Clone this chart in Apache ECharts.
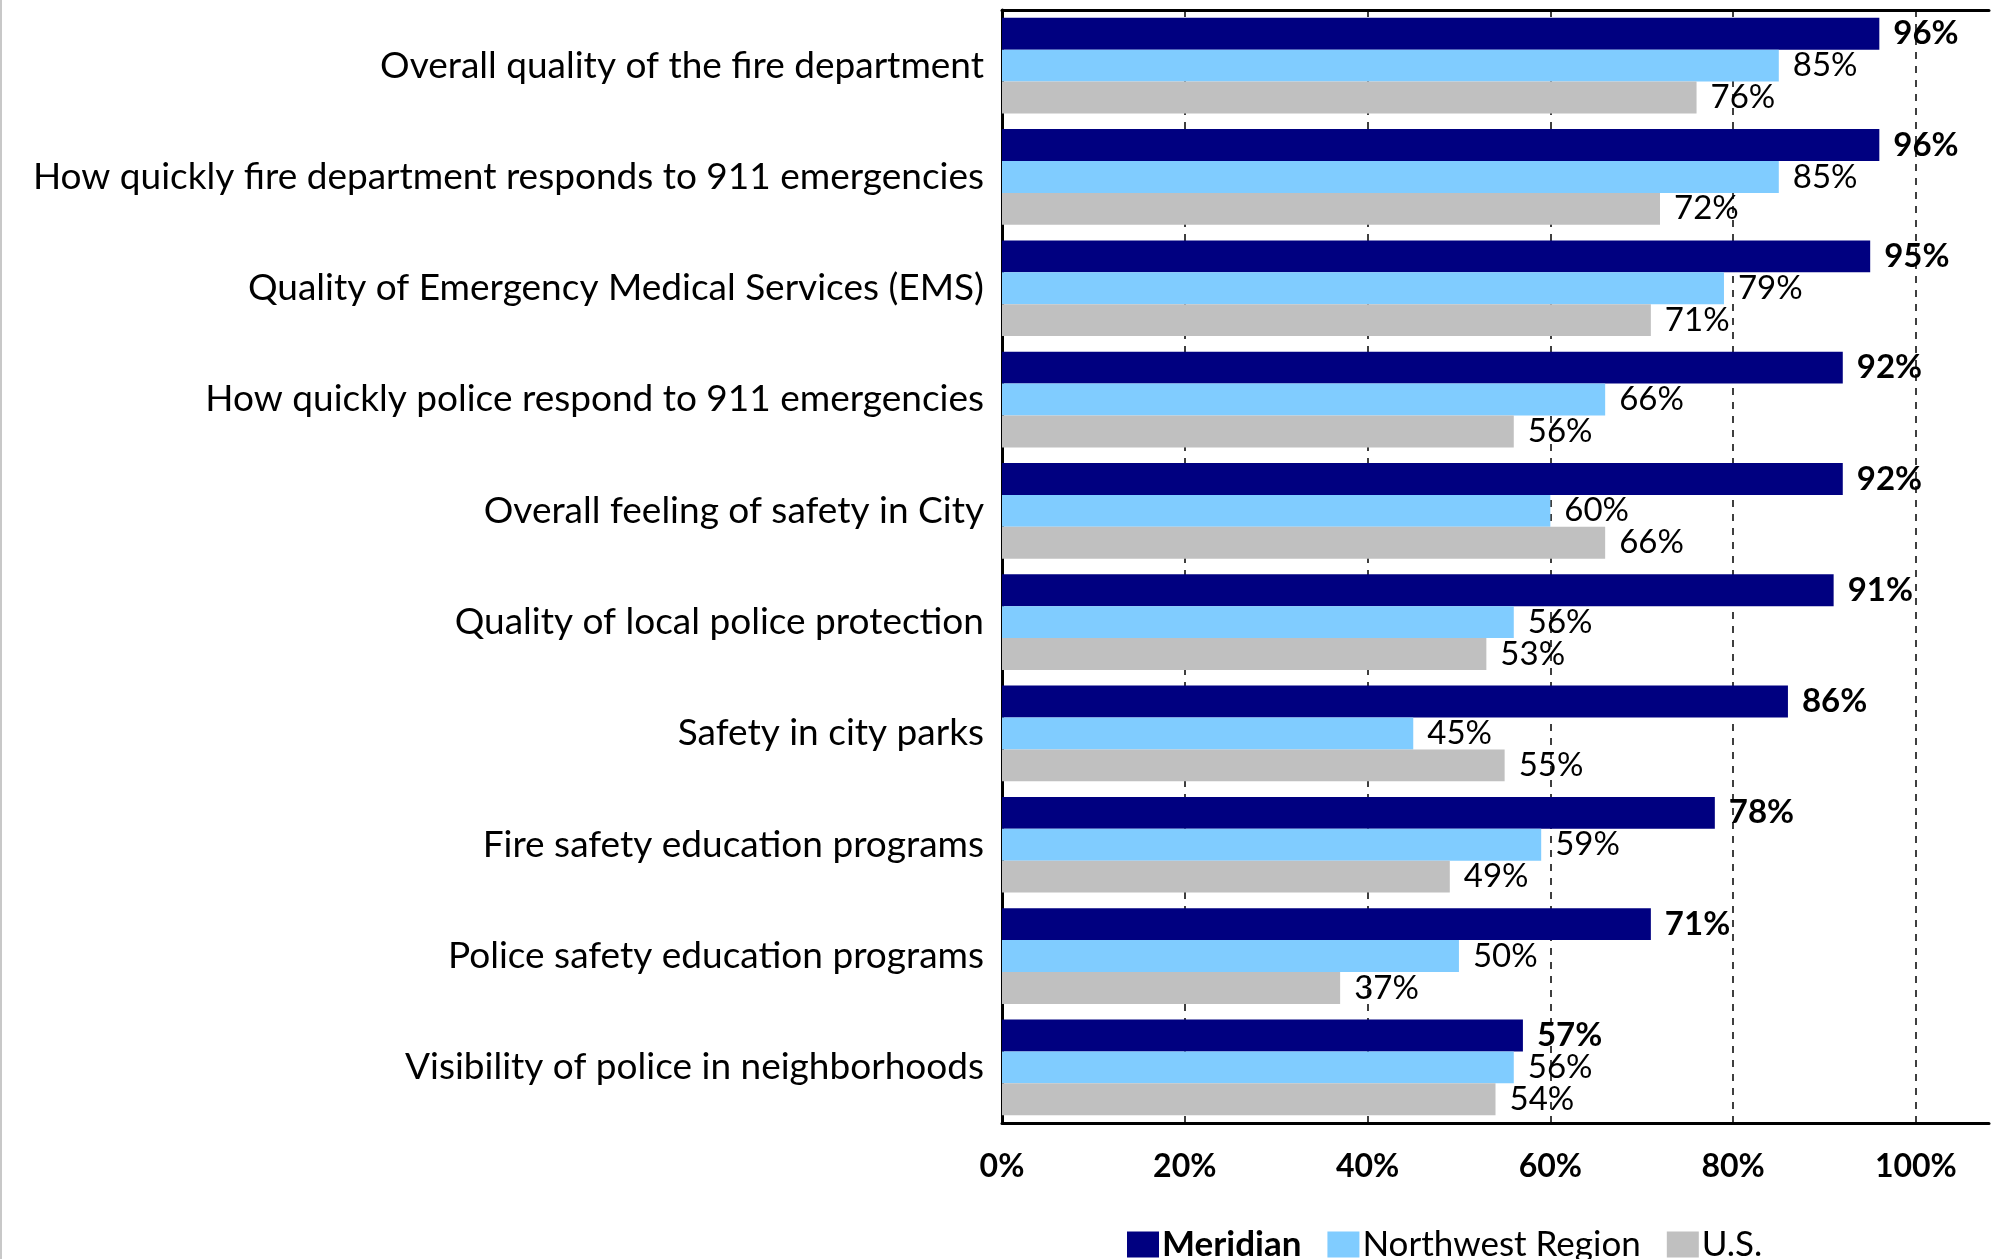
<!DOCTYPE html>
<html>
<head>
<meta charset="utf-8">
<script src="https://cdn.jsdelivr.net/npm/echarts@6/dist/echarts.min.js"></script>
<style>
html,body{margin:0;padding:0;background:#fff;overflow:hidden;}
#chart{width:1992px;height:1259px;}
</style>
</head>
<body>
<div id="chart"></div>
<script>
const categories = [
  'Overall quality of the fire department',
  'How quickly fire department responds to 911 emergencies',
  'Quality of Emergency Medical Services (EMS)',
  'How quickly police respond to 911 emergencies',
  'Overall feeling of safety in City',
  'Quality of local police protection',
  'Safety in city parks',
  'Fire safety education programs',
  'Police safety education programs',
  'Visibility of police in neighborhoods'
];
const seriesNames = ['Meridian', 'Northwest Region', 'U.S.'];
const meridian = [96, 96, 95, 92, 92, 91, 86, 78, 71, 57];
const northwest = [85, 85, 79, 66, 60, 56, 45, 59, 50, 56];
const us = [76, 72, 71, 56, 66, 53, 55, 49, 37, 54];
const tickValues = [0, 20, 40, 60, 80, 100];

const FONT = 'Lato';
const colors = ['#000080', '#80CCFF', '#C0C0C0'];

function mkSeries(name, data, color, bold) {
  return {
    name: name,
    type: 'bar',
    data: data,
    barGap: '0%',
    barCategoryGap: '14%',
    itemStyle: { color: color },
    label: {
      show: true,
      position: 'right',
      distance: 14,
      formatter: '{c}%',
      color: '#000',
      fontFamily: FONT,
      fontSize: 33,
      fontWeight: bold ? 'bold' : 'normal'
    }
  };
}

const chart = echarts.init(document.getElementById('chart'), null, { renderer: 'canvas' });
chart.setOption({
  backgroundColor: '#fff',
  animation: false,
  grid: {
    left: 1002, right: 0, top: 10, bottom: 136,
    show: false, containLabel: false
  },
  legend: {
    data: seriesNames,
    left: 1122, top: 1222,
    itemWidth: 32, itemHeight: 26, itemGap: 26,
    icon: 'rect',
    formatter: function (n) { return n === 'Meridian' ? '{b|' + n + '}' : '{n|' + n + '}'; },
    textStyle: {
      fontFamily: FONT, fontSize: 35, color: '#000', padding: [0, 0, 0, -2],
      rich: {
        b: { fontFamily: FONT, fontSize: 35, fontWeight: 'bold', color: '#000' },
        n: { fontFamily: FONT, fontSize: 35, color: '#000' }
      }
    }
  },
  xAxis: [{
    type: 'value',
    min: 0, max: 108, interval: 20,
    axisLine: { show: true, lineStyle: { color: '#000', width: 3 } },
    axisTick: { show: false },
    splitLine: {
      show: true,
      showMinLine: false,
      showMaxLine: false,
      lineStyle: { color: '#000', type: [7, 7], width: 1.5 }
    },
    axisLabel: {
      margin: 28,
      fontFamily: FONT, fontSize: 32, fontWeight: 'bold', color: '#000',
      formatter: function (v) { return tickValues.indexOf(v) >= 0 ? v + '%' : ''; }
    }
  }, {
    type: 'value',
    position: 'top',
    min: 0, max: 108, interval: 20,
    axisLine: { show: true, lineStyle: { color: '#000', width: 3 } },
    axisTick: { show: false },
    splitLine: { show: false },
    axisLabel: { show: false }
  }],
  yAxis: {
    type: 'category',
    data: categories,
    inverse: true,
    axisLine: { show: true, lineStyle: { color: '#000', width: 3 } },
    axisTick: { show: false },
    axisLabel: {
      margin: 18,
      fontFamily: FONT, fontSize: 37, color: '#000'
    }
  },
  series: [
    mkSeries(seriesNames[0], meridian, colors[0], true),
    mkSeries(seriesNames[1], northwest, colors[1], false),
    mkSeries(seriesNames[2], us, colors[2], false)
  ],
  graphic: [{
    type: 'line', shape: { x1: 1, y1: 0, x2: 1, y2: 1259 },
    style: { stroke: '#c8c8c8', lineWidth: 2 }
  }]
});
</script>
</body>
</html>
